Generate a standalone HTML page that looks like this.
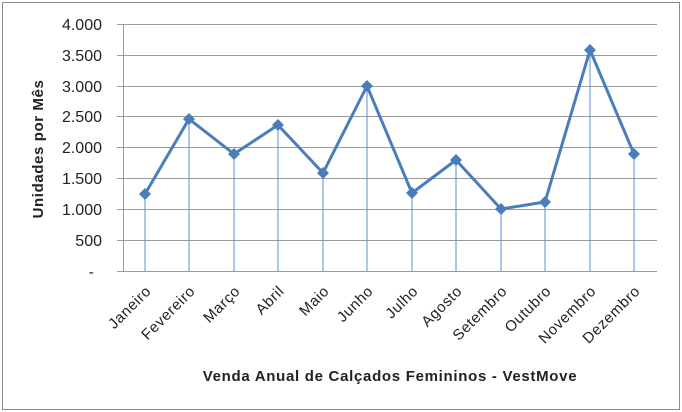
<!DOCTYPE html>
<html><head><meta charset="utf-8"><style>
html,body{margin:0;padding:0;background:#fff;}
svg{display:block;}
text{font-family:"Liberation Sans",sans-serif;fill:#222;}
</style></head><body>
<svg width="682" height="412" viewBox="0 0 682 412" xmlns="http://www.w3.org/2000/svg">
<rect x="2.5" y="2.5" width="677" height="407" fill="#fff" stroke="#8c8c8c" stroke-width="1"/>
<g stroke="#9a9a9a" stroke-width="1">
<line x1="117" y1="24.5" x2="657" y2="24.5"/>
<line x1="117" y1="55.5" x2="657" y2="55.5"/>
<line x1="117" y1="86.5" x2="657" y2="86.5"/>
<line x1="117" y1="116.5" x2="657" y2="116.5"/>
<line x1="117" y1="147.5" x2="657" y2="147.5"/>
<line x1="117" y1="178.5" x2="657" y2="178.5"/>
<line x1="117" y1="209.5" x2="657" y2="209.5"/>
<line x1="117" y1="240.5" x2="657" y2="240.5"/>
<line x1="117" y1="271.5" x2="657" y2="271.5"/>
<line x1="123.5" y1="24" x2="123.5" y2="271"/>
</g>
<g font-size="16" text-anchor="end">
<text x="102" y="30">4.000</text>
<text x="102" y="61">3.500</text>
<text x="102" y="92">3.000</text>
<text x="102" y="122">2.500</text>
<text x="102" y="153">2.000</text>
<text x="102" y="184">1.500</text>
<text x="102" y="215">1.000</text>
<text x="102" y="246">500</text>
<text x="94" y="277">-</text>
</g>
<text transform="translate(43,149) rotate(-90)" font-size="15" font-weight="bold" letter-spacing="0.6" text-anchor="middle">Unidades por Mês</text>
<g stroke="#5b8fd0" stroke-width="1">
<line x1="145" y1="194" x2="145" y2="271"/>
<line x1="189" y1="119" x2="189" y2="271"/>
<line x1="234" y1="154" x2="234" y2="271"/>
<line x1="278" y1="125" x2="278" y2="271"/>
<line x1="323" y1="173" x2="323" y2="271"/>
<line x1="367" y1="86" x2="367" y2="271"/>
<line x1="412" y1="193" x2="412" y2="271"/>
<line x1="456" y1="160" x2="456" y2="271"/>
<line x1="501" y1="209" x2="501" y2="271"/>
<line x1="545" y1="202" x2="545" y2="271"/>
<line x1="590" y1="50" x2="590" y2="271"/>
<line x1="634" y1="154" x2="634" y2="271"/>
</g>
<polyline fill="none" stroke="#4a7ebb" stroke-width="3" stroke-linejoin="round" points="145,194 189,119 234,154 278,125 323,173 367,86 412,193 456,160 501,209 545,202 590,50 634,154"/>
<g fill="#4a7ebb">
<path d="M145,188l6,6l-6,6l-6,-6z"/><path d="M189,113l6,6l-6,6l-6,-6z"/><path d="M234,148l6,6l-6,6l-6,-6z"/><path d="M278,119l6,6l-6,6l-6,-6z"/><path d="M323,167l6,6l-6,6l-6,-6z"/><path d="M367,80l6,6l-6,6l-6,-6z"/><path d="M412,187l6,6l-6,6l-6,-6z"/><path d="M456,154l6,6l-6,6l-6,-6z"/><path d="M501,203l6,6l-6,6l-6,-6z"/><path d="M545,196l6,6l-6,6l-6,-6z"/><path d="M590,44l6,6l-6,6l-6,-6z"/><path d="M634,148l6,6l-6,6l-6,-6z"/>
</g>
<g font-size="15" text-anchor="end" letter-spacing="0.6">
<text transform="translate(152,292) rotate(-45)">Janeiro</text>
<text transform="translate(196,292) rotate(-45)">Fevereiro</text>
<text transform="translate(241,292) rotate(-45)">Março</text>
<text transform="translate(285,292) rotate(-45)">Abril</text>
<text transform="translate(330,292) rotate(-45)">Maio</text>
<text transform="translate(374,292) rotate(-45)">Junho</text>
<text transform="translate(419,292) rotate(-45)">Julho</text>
<text transform="translate(463,292) rotate(-45)">Agosto</text>
<text transform="translate(508,292) rotate(-45)">Setembro</text>
<text transform="translate(552,292) rotate(-45)">Outubro</text>
<text transform="translate(597,292) rotate(-45)">Novembro</text>
<text transform="translate(641,292) rotate(-45)">Dezembro</text>
</g>
<text x="390" y="381" font-size="15" font-weight="bold" letter-spacing="0.7" text-anchor="middle">Venda Anual de Calçados Femininos - VestMove</text>
</svg>
</body></html>
